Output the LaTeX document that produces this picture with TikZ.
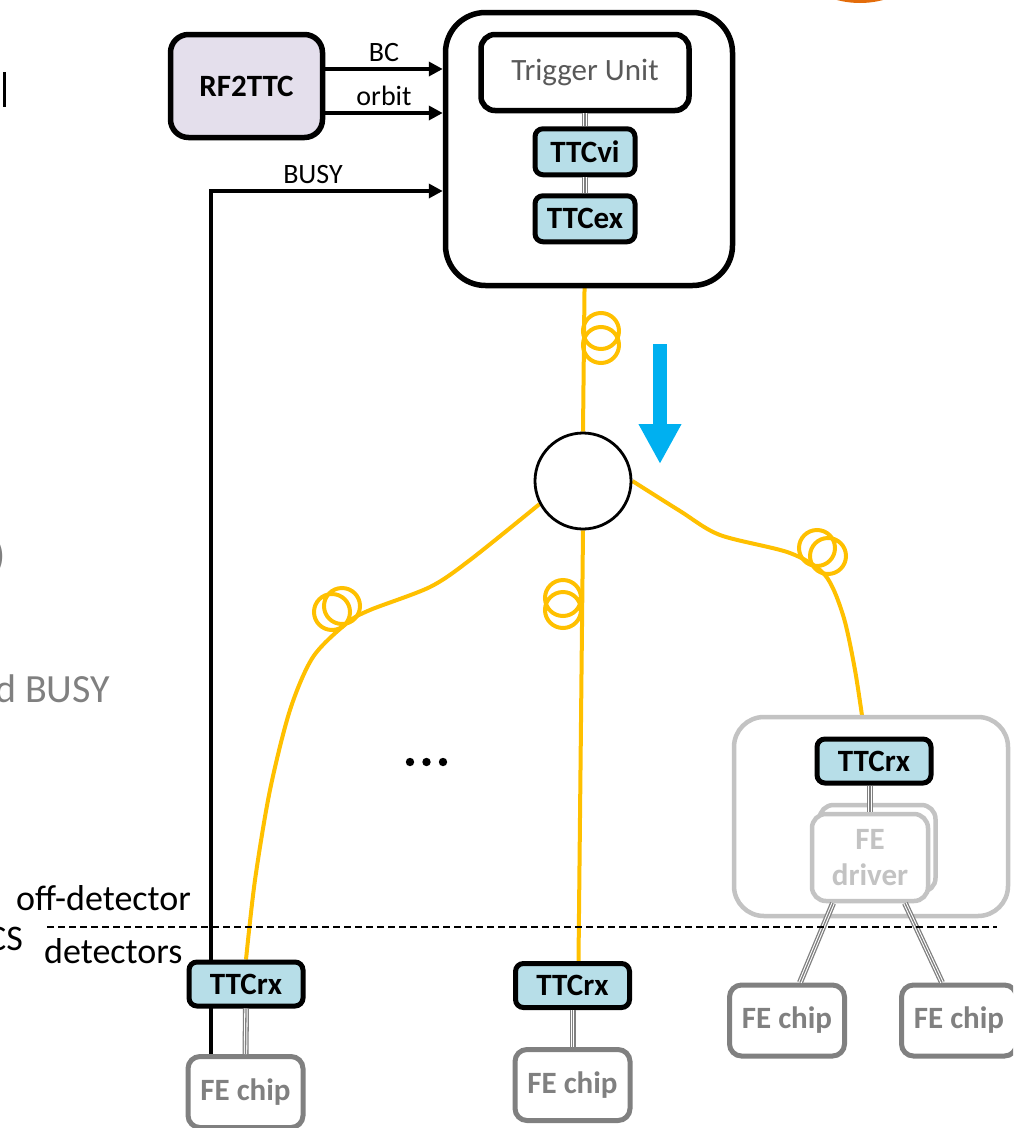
\documentclass[tikz,border=0pt]{standalone}
\usepackage{fontspec}
\setmainfont{Carlito}
\usetikzlibrary{positioning}
\usetikzlibrary{arrows.meta}
\usetikzlibrary{backgrounds}
\definecolor{ttcblue}{HTML}{B7DEE8}
\definecolor{rflilac}{HTML}{E4DFEC}
\definecolor{fibreyellow}{HTML}{FFC000}
\definecolor{flowblue}{HTML}{00B0F0}
\definecolor{chipgray}{HTML}{808080}
\definecolor{drivergray}{HTML}{C3C3C3}
\definecolor{unitgray}{HTML}{595959}
\definecolor{logoorange}{HTML}{E36C0A}
% text sizes
\newcommand*\boxtextsize{\fontsize{31}{36}\selectfont}
\newcommand*\signaltextsize{\fontsize{28}{33}\selectfont}
\newcommand*\zonetextsize{\fontsize{36}{42}\selectfont}
\newcommand*\notetextsize{\fontsize{40}{48}\selectfont}

\begin{document}
\begin{tikzpicture}
    [%
        x=1pt,y=-1pt,%
        unit box/.style={%
            draw,%
            line width=5.5pt,%
            rounded corners=14pt,%
            fill=white,%
            inner sep=0pt,%
            font=\boxtextsize%
        },%
        ttc/.style={%
            unit box,%
            line width=5pt,%
            rounded corners=8pt,%
            fill=ttcblue,%
            minimum width=114pt,%
            minimum height=44pt,%
            font=\boxtextsize\bfseries%
        },%
        fe chip/.style={%
            unit box,%
            draw=chipgray,%
            text=chipgray,%
            line width=5pt,%
            rounded corners=12pt,%
            minimum width=115pt,%
            minimum height=71pt,%
            font=\boxtextsize\bfseries%
        },%
        fe driver/.style={%
            unit box,%
            draw=drivergray,%
            text=drivergray,%
            line width=4.5pt,%
            minimum width=116pt,%
            minimum height=87pt,%
            align=center,%
            font=\boxtextsize\bfseries%
        },%
        signal/.style={%
            draw,%
            line width=3.5pt,%
            -{Triangle[length=14pt,width=14pt]}%
        },%
        signal label/.style={%
            font=\signaltextsize,%
            inner sep=0pt,%
            above=6pt%
        },%
        bus/.style={%
            draw=chipgray,%
            line width=6pt,%
            postaction={draw=white,line width=3.4pt},%
            postaction={draw=chipgray,line width=1.3pt}%
        },%
        fibre/.style={%
            draw=fibreyellow,%
            line width=4pt%
        },%
        flow/.style={%
            draw=flowblue,%
            line width=14pt,%
            -{Triangle[length=40pt,width=40pt]}%
        },%
        zone label/.style={%
            font=\zonetextsize,%
            inner sep=0pt,%
            anchor=base west%
        },%
        note/.style={%
            font=\notetextsize,%
            text=chipgray,%
            inner sep=0pt%
        }%
    ]%
%
    \useasboundingbox (0,0) rectangle (1013,1128);
    \clip (0,0) rectangle (1013,1128);
%
    % leftovers at the page edges
    \fill[logoorange] (860,-86.5) circle[radius=89.5pt];
    \draw[line width=3pt] (4,72) -- (4,107);
    \node[note, anchor=base east] (paren) at (6,568) {)};
    \node[note, anchor=base west] (busynote) at (-5,702) {d BUSY};
    \node[font=\zonetextsize, inner sep=0pt, anchor=base east] (cs) at (23,950) {CS};
%
    % clock source and trigger crate
    \node[unit box, fill=rflilac, rounded corners=18pt, minimum width=152pt,
        minimum height=103pt, font=\boxtextsize\bfseries] (rf) at (246.5,86) {RF2TTC};
    \node[unit box, rounded corners=40pt, minimum width=287pt,
        minimum height=273pt] (trig) at (589,149) {};
    \node[unit box, text=unitgray, minimum width=208pt,
        minimum height=76pt] (tu) at (585,72.5) {Trigger Unit};
    \node[ttc, minimum width=100pt, minimum height=46pt, below=13pt of tu] (ttcvi) {TTCvi};
    \node[ttc, minimum width=100pt, minimum height=46pt, below=16pt of ttcvi] (ttcex) {TTCex};
%
    % optical splitter
    \node[draw, circle, line width=2.8pt, fill=white, minimum size=96pt,
        inner sep=0pt] (hub) at (583,481) {};
%
    % front-end crate on the right
    \node[unit box, draw=drivergray, line width=4.5pt, rounded corners=30pt,
        minimum width=274pt, minimum height=199pt] (crate) at (871,816.5) {};
    \node[fe driver] (drvback) at (877.5,848.5) {};
    \node[fe driver] (drv) at (870,857.5) {FE\\driver};
%
    % receivers and chips
    % \name node name
    % \x/\y centre of the node
    \foreach \name/\x/\y in {rxA/246/984, rxB/572.5/985.5, rxC/874/761}
        \node[ttc] (\name) at (\x,\y) {TTCrx};
    \foreach \name/\x/\y in {feA/245.5/1092, feB/572.5/1085, feC/787/1020.5, feD/959/1020.5}
        \node[fe chip] (\name) at (\x,\y) {FE chip};
%
    % clock, orbit and busy lines
    \path ([yshift=17pt]rf.east) coordinate (bc-out)
        ([yshift=-27pt]rf.east) coordinate (orbit-out)
        ([yshift=-42pt]trig.west) coordinate (busy-in);
    \draw[signal] (bc-out) -- (bc-out -| trig.west) node[signal label, midway] {BC};
    \draw[signal] (orbit-out) -- (orbit-out -| trig.west) node[signal label, midway] {orbit};
%
    \begin{scope}[on background layer]
        \draw[signal] ([xshift=-34.5pt]feA.north) |- (busy-in)
            node[signal label, pos=0.72] {BUSY};
% fibres out of the splitter
        \draw[fibre] (ttcex.south) -- (hub.north);
        \draw[fibre] (hub.south) -- ([xshift=6pt]rxB.north);
        \draw[fibre] plot[smooth] coordinates {(hub.208) (470,560) (430,587)
            (370,610) (347,623) (313,657) (290,710) (270,790) (255,880) (rxA.north)};
        \draw[fibre] plot[smooth] coordinates {(hub.east) (680,511) (720,535)
            (790,553) (825,575) (843,615) (855,670) ([xshift=-9pt]rxC.north)};
        % fibre loops
        \foreach \xa/\ya/\xb/\yb in {601/331/601/345, 563/598/563/610,
                                      332/612/342/606, 817/548/828/556}
            \draw[fibre] (\xa,\ya) circle[radius=18pt] (\xb,\yb) circle[radius=18pt];
    \end{scope}
%
    % electrical links
    \draw[bus] (tu.south) -- (ttcvi.north);
    \draw[bus] (ttcvi.south) -- (ttcex.north);
    \foreach \rx/\fe in {rxA/feA, rxB/feB}
        \draw[bus] (\rx.south) -- (\fe.north);
    \draw[bus] (drv.north) -- (drv.north |- rxC.south);
    \draw[bus] ([xshift=-37pt]drv.south) -- ([xshift=13pt]feC.north);
    \draw[bus] ([xshift=35pt]drv.south) -- ([xshift=-17pt]feD.north);
%
    % direction of the distribution
    \draw[flow] (660,344) -- (660,464);
    \foreach \x in {410,426.5,443}
        \fill (\x,762) circle[radius=4.2pt];
%
    % detector boundary
    \draw[line width=1.8pt, dash pattern=on 7pt off 4pt] (47,927) -- (997,927);
    \node[zone label] (offdet) at (16,910) {off-detector};
    \node[zone label] (ondet) at (44,963) {detectors};
\end{tikzpicture}
\end{document}
